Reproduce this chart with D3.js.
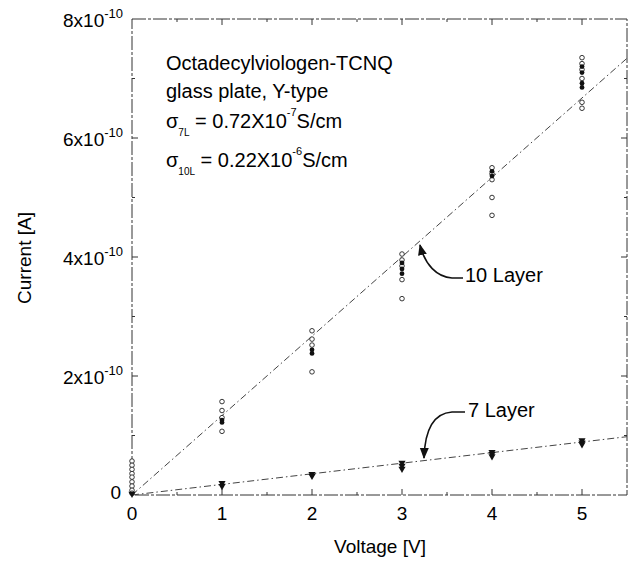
<!DOCTYPE html>
<html>
<head>
<meta charset="utf-8">
<script src="https://cdn.jsdelivr.net/npm/d3@7"></script>
<style>
  body { margin: 0; background: #fff; }
  svg { font-family: "Liberation Sans", Arial, sans-serif; }
</style>
</head>
<body>
<svg id="chart" width="632" height="562"></svg>
<script>
'use strict';

// values in units of 1e-10 A
const xTicks = [0, 1, 2, 3, 4, 5];
const yTicks = [0, 2, 4, 6, 8];
const yTickLabels = ["0", "2x10", "4x10", "6x10", "8x10"];

// 10 layer: open circles and filled points, per voltage
const open10 = [
  [0, [0.57, 0.5, 0.43, 0.36, 0.3, 0.22, 0.15, 0.08, 0.03]],
  [1, [1.57, 1.42, 1.3, 1.07]],
  [2, [2.76, 2.62, 2.52, 2.07]],
  [3, [4.05, 3.95, 3.85, 3.62, 3.3]],
  [4, [5.5, 5.4, 5.3, 5.0, 4.7]],
  [5, [7.35, 7.25, 7.15, 7.0, 6.6, 6.5]]
];
const filled10 = [
  [1, [1.26, 1.22]],
  [2, [2.44, 2.38]],
  [3, [3.9, 3.8, 3.72]],
  [4, [5.44, 5.36]],
  [5, [7.2, 7.1, 6.92, 6.85]]
];
// 7 layer: filled points
const filled7 = [
  [0, [0.02]],
  [1, [0.2, 0.15]],
  [2, [0.35, 0.32]],
  [3, [0.54, 0.49, 0.44]],
  [4, [0.72, 0.69, 0.65]],
  [5, [0.92, 0.88, 0.85]]
];
// fitted lines
const fit10 = [[0, 0], [5.5, 7.34]];
const fit7 = [[0, 0], [5.5, 0.98]];

const svg = d3.select("#chart");
const plotL = 132, plotR = 627, plotT = 19, plotB = 495;

const x = d3.scaleLinear().domain([0, 5.5]).range([plotL, plotR]);
const y = d3.scaleLinear().domain([0, 8]).range([plotB, plotT]);

const frame = svg.append("g");
frame.append("rect")
  .attr("x", plotL).attr("y", plotT)
  .attr("width", plotR - plotL).attr("height", plotB - plotT)
  .attr("fill", "none").attr("stroke", "#333").attr("stroke-width", 1)
  .attr("stroke-dasharray", "14,2,3,2");

// inward ticks on all four sides
const xMinor = d3.range(0.5, 5.5, 0.5);
const yMinor = d3.range(1, 8, 1);
xMinor.forEach(function(v) {
  let len = Number.isInteger(v) ? 6 : 3;
  frame.append("line").attr("x1", x(v)).attr("x2", x(v)).attr("y1", plotB).attr("y2", plotB - len);
  frame.append("line").attr("x1", x(v)).attr("x2", x(v)).attr("y1", plotT).attr("y2", plotT + len);
});
yMinor.forEach(function(v) {
  let len = v % 2 === 0 ? 6 : 3;
  frame.append("line").attr("y1", y(v)).attr("y2", y(v)).attr("x1", plotL).attr("x2", plotL + len);
  frame.append("line").attr("y1", y(v)).attr("y2", y(v)).attr("x1", plotR).attr("x2", plotR - len);
});
frame.selectAll("line").attr("stroke", "#333").attr("stroke-width", 1);

// x tick labels
svg.append("g").selectAll("text").data(xTicks).join("text")
  .attr("x", d => x(d)).attr("y", 520)
  .attr("text-anchor", "middle").attr("font-size", 19)
  .text(d => d);

// y tick labels with superscript exponent
const yl = svg.append("g").selectAll("text").data(yTicks).join("text")
  .attr("x", (d, i) => i === 0 ? 121 : 123)
  .attr("y", (d, i) => i === 0 ? y(d) + 4 : y(d) + 8)
  .attr("text-anchor", "end").attr("font-size", 19);
yl.append("tspan").text((d, i) => yTickLabels[i]);
yl.filter((d, i) => i > 0).append("tspan")
  .attr("font-size", 13).attr("dy", -9).text("-10");

// axis titles
svg.append("text").attr("x", 380).attr("y", 553)
  .attr("text-anchor", "middle").attr("font-size", 19).text("Voltage [V]");
svg.append("text").attr("transform", "translate(31,258) rotate(-90)")
  .attr("text-anchor", "middle").attr("font-size", 19).text("Current [A]");

// fit lines
const line = d3.line().x(d => x(d[0])).y(d => y(d[1]));
[fit10, fit7].forEach(function(f) {
  svg.append("path").attr("d", line(f))
    .attr("fill", "none").attr("stroke", "#444").attr("stroke-width", 1)
    .attr("stroke-dasharray", "7,3,1.5,3");
});

// data points
function flatten(groups) {
  let pts = [];
  groups.forEach(function(g) { g[1].forEach(function(v) { pts.push([g[0], v]); }); });
  return pts;
}
svg.append("g").selectAll("circle").data(flatten(open10)).join("circle")
  .attr("cx", d => x(d[0])).attr("cy", d => y(d[1])).attr("r", 2.3)
  .attr("fill", "#fff").attr("stroke", "#222").attr("stroke-width", 0.9);
svg.append("g").selectAll("circle").data(flatten(filled10)).join("circle")
  .attr("cx", d => x(d[0])).attr("cy", d => y(d[1])).attr("r", 2.4)
  .attr("fill", "#111");
const tri = d3.symbol().type(d3.symbolTriangle).size(22);
svg.append("g").selectAll("path").data(flatten(filled7)).join("path")
  .attr("d", tri)
  .attr("transform", d => "translate(" + x(d[0]) + "," + y(d[1]) + ") rotate(180)")
  .attr("fill", "#111");

// annotation block
const note = svg.append("g").attr("font-size", 20);
note.append("text").attr("x", 166).attr("y", 70).text("Octadecylviologen-TCNQ");
note.append("text").attr("x", 166).attr("y", 98).text("glass plate, Y-type");
function sigmaRow(yb, sub, val, exp) {
  const t = note.append("text").attr("x", 166).attr("y", yb);
  t.append("tspan").text("\u03c3");
  t.append("tspan").attr("font-size", 10).attr("dy", 8).text(sub);
  t.append("tspan").attr("dy", -8).text(" = " + val);
  t.append("tspan").attr("font-size", 11).attr("dy", -12).text(exp);
  t.append("tspan").attr("dy", 12).text("S/cm");
}
sigmaRow(128, "7L", "0.72X10", "-7");
sigmaRow(167, "10L", "0.22X10", "-6");

// layer labels with curved arrows
svg.append("text").attr("x", 465).attr("y", 282).attr("font-size", 20).text("10 Layer");
svg.append("text").attr("x", 468).attr("y", 417).attr("font-size", 20).text("7 Layer");

const defs = svg.append("defs");
defs.append("marker").attr("id", "head").attr("viewBox", "0 0 10 10")
  .attr("refX", 9).attr("refY", 5).attr("markerWidth", 7).attr("markerHeight", 7)
  .attr("orient", "auto")
  .append("path").attr("d", "M0,1 L10,5 L0,9 Z").attr("fill", "#111");

svg.append("path").attr("d", "M463,278 L452,278 C437,277 425,265 420,245")
  .attr("fill", "none").attr("stroke", "#111").attr("stroke-width", 1.6)
  .attr("marker-end", "url(#head)");
svg.append("path").attr("d", "M465,412 L452,412 C437,413 425,425 424,458")
  .attr("fill", "none").attr("stroke", "#111").attr("stroke-width", 1.6)
  .attr("marker-end", "url(#head)");
</script>
</body>
</html>
